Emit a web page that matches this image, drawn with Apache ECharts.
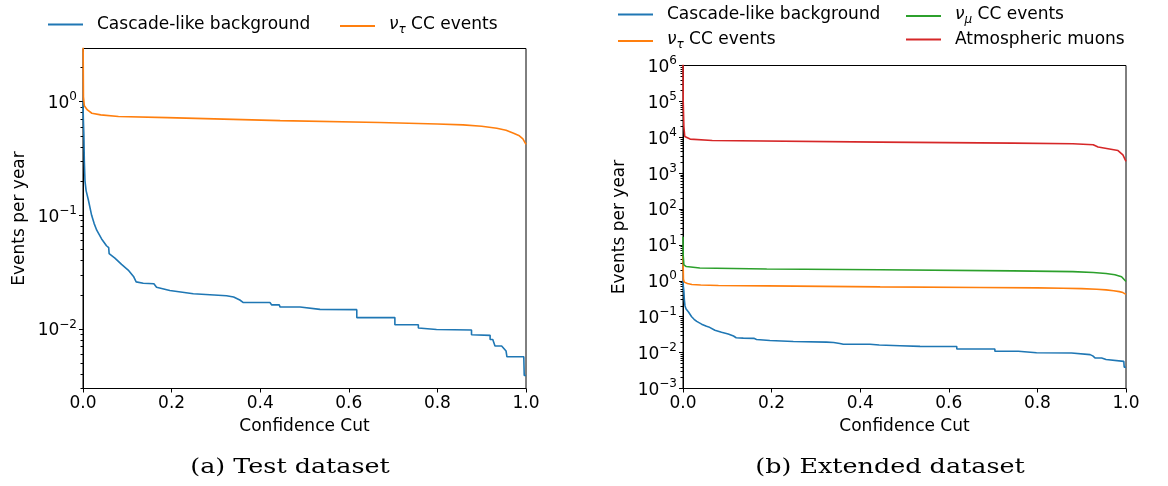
<!DOCTYPE html>
<html>
<head>
<meta charset="utf-8">
<script src="https://cdn.jsdelivr.net/npm/echarts@6/dist/echarts.min.js"></script>
<style>
  html, body { margin: 0; background: #fff; }
  #chart { width: 1168px; height: 486px; }
</style>
</head>
<body>
<div id="chart"></div>
<script>
// Cascade-like background (repeated cut = vertical drop)
const backgroundCut = [0, 0.0008, 0.002, 0.003, 0.0045, 0.007, 0.012, 0.0195, 0.025, 0.031, 0.042, 0.053, 0.058, 0.059, 0.072, 0.087, 0.102, 0.114, 0.12, 0.136, 0.16, 0.166, 0.196, 0.249, 0.324, 0.34, 0.354, 0.362, 0.422, 0.426, 0.443, 0.445, 0.49, 0.535, 0.618, 0.618, 0.704, 0.704, 0.757, 0.757, 0.798, 0.877, 0.877, 0.919, 0.919, 0.925, 0.93, 0.945, 0.955, 0.957, 0.995, 0.996, 1.0];
const backgroundRate = [1.0, 0.7, 0.5, 0.3, 0.2, 0.165, 0.137, 0.1, 0.085, 0.074, 0.062, 0.054, 0.052, 0.046, 0.042, 0.037, 0.033, 0.029, 0.026, 0.0253, 0.025, 0.0233, 0.0218, 0.0204, 0.0196, 0.0191, 0.018, 0.0171, 0.0171, 0.0163, 0.0163, 0.0156, 0.0156, 0.0149, 0.0148, 0.0126, 0.0126, 0.0109, 0.0109, 0.0102, 0.0099, 0.0098, 0.0089, 0.0088, 0.0081, 0.0081, 0.0071, 0.0071, 0.0064, 0.0057, 0.0057, 0.0039, 0.0039];

// nu_tau CC events
const nuTauCut = [0, 0.001, 0.003, 0.01, 0.02, 0.04, 0.08, 0.19, 0.445, 0.67, 0.8, 0.858, 0.9, 0.934, 0.955, 0.972, 0.985, 0.993, 1.0];
const nuTauRate = [5, 1.1, 0.92, 0.845, 0.79, 0.764, 0.74, 0.723, 0.68, 0.654, 0.635, 0.624, 0.607, 0.583, 0.56, 0.527, 0.5, 0.47, 0.42];

// nu_mu CC events (extended dataset)
const nuMuCut = [0, 0.0005, 0.002, 0.0075, 0.038, 0.189, 0.445, 0.745, 0.88, 0.926, 0.955, 0.975, 0.99, 1.0];
const nuMuRate = [17, 5, 2.8, 2.5, 2.27, 2.13, 2.04, 1.9, 1.8, 1.71, 1.6, 1.48, 1.3, 0.96];

// atmospheric muons (extended dataset)
const muonCut = [0, 0.0005, 0.002, 0.004, 0.016, 0.066, 0.445, 0.745, 0.88, 0.926, 0.937, 0.982, 0.993, 1.0];
const muonRate = [1.5e6, 1e5, 2e4, 1.05e4, 8900, 8130, 7340, 6890, 6600, 6170, 5330, 4270, 3240, 2140];

const xTicks = [0, 0.2, 0.4, 0.6, 0.8, 1.0];
const yTicksTest = [0.01, 0.1, 1];
const yTicksExt = [1e-3, 1e-2, 1e-1, 1, 10, 100, 1e3, 1e4, 1e5, 1e6];

const BLUE = '#1f77b4', ORANGE = '#ff7f0e', GREEN = '#2ca02c', RED = '#d62728';
const FONT = 'DejaVu Sans';
const FS = 17;

const zip = (xs, ys) => xs.map((x, i) => [x, ys[i]]);

function minorTicks(lo, hi) {
  const out = [];
  for (let e = Math.floor(Math.log10(lo)); e <= Math.ceil(Math.log10(hi)); e++) {
    for (let m = 2; m <= 9; m++) {
      const v = m * Math.pow(10, e);
      if (v >= lo && v <= hi) out.push(v);
    }
  }
  return out;
}

function powLabel(v) {
  const e = Math.round(Math.log10(v));
  return '{b|10}{s|' + (e < 0 ? '\u2212' + (-e) : e) + '}';
}

const labelRich = {
  b: { fontFamily: FONT, fontSize: FS, color: '#000', verticalAlign: 'bottom' },
  s: { fontFamily: FONT, fontSize: 12, color: '#000', verticalAlign: 'bottom', padding: [0, 0, 9, 0] }
};

function xAxis(gridIndex) {
  return {
    type: 'value', gridIndex, min: 0, max: 1, interval: 0.2,
    name: 'Confidence Cut', nameLocation: 'middle', nameGap: 30,
    nameTextStyle: { fontFamily: FONT, fontSize: FS, color: '#000' },
    axisLine: { lineStyle: { color: '#000', width: 1 } },
    axisTick: { length: 4, customValues: xTicks, lineStyle: { color: '#000' } },
    axisLabel: { fontFamily: FONT, fontSize: FS, color: '#000', margin: 7, customValues: xTicks, formatter: v => v.toFixed(1) },
    splitLine: { show: false }
  };
}

function yMajor(gridIndex, min, max, ticks) {
  return {
    type: 'log', gridIndex, min, max, logBase: 10, position: 'left',
    name: 'Events per year', nameLocation: 'middle', nameGap: 55,
    nameTextStyle: { fontFamily: FONT, fontSize: FS, color: '#000' },
    axisLine: { show: true, lineStyle: { color: '#000', width: 1 } },
    axisTick: { show: true, length: 4, customValues: ticks, lineStyle: { color: '#000' } },
    axisLabel: { customValues: ticks, margin: 6, formatter: powLabel, rich: labelRich },
    splitLine: { show: false }
  };
}

function yMinor(gridIndex, min, max) {
  const vals = minorTicks(min, max);
  return {
    type: 'log', gridIndex, min, max, logBase: 10, position: 'left',
    axisLine: { show: false },
    axisTick: { show: true, length: 2.5, customValues: vals, lineStyle: { color: '#000' } },
    axisLabel: { show: false, customValues: vals },
    splitLine: { show: false }
  };
}

function line(name, data, color, xi, yi) {
  return {
    name, type: 'line', data, xAxisIndex: xi, yAxisIndex: yi,
    showSymbol: false, clip: true,
    lineStyle: { color, width: 1.6 }, itemStyle: { color },
    emphasis: { disabled: true }
  };
}

function legendAt(name, left, top) {
  return {
    data: [name], left, top, padding: 0,
    icon: 'rect', itemWidth: 35, itemHeight: 2,
    selectedMode: false,
    textStyle: {
      fontFamily: FONT, fontSize: FS, color: '#000', padding: [0, 0, 0, 9],
      rich: {
        n: { fontFamily: FONT, fontSize: FS, fontStyle: 'italic', color: '#000', verticalAlign: 'top' },
        t: { fontFamily: FONT, fontSize: 12, fontStyle: 'italic', color: '#000', verticalAlign: 'top', padding: [8, 0, 0, 0] },
        r: { fontFamily: FONT, fontSize: FS, color: '#000', verticalAlign: 'top' }
      }
    },
    formatter: n => {
      if (n.indexOf('\u03bd\u03c4') === 0) return '{n|\u03bd}{t|\u03c4}{r| CC events}';
      if (n.indexOf('\u03bd\u03bc') === 0) return '{n|\u03bd}{t|\u03bc}{r| CC events}';
      return n;
    }
  };
}

const NAME_BG = 'Cascade-like background';
const NAME_TAU = '\u03bd\u03c4 CC events';
const NAME_MU = '\u03bd\u03bc CC events';
const NAME_ATM = 'Atmospheric muons';

const chart = echarts.init(document.getElementById('chart'), null, { renderer: 'canvas' });

chart.setOption({
  animation: false,
  backgroundColor: '#fff',
  grid: [
    { left: 83, right: 642, top: 48.5, bottom: 97.5, show: true, borderColor: '#000', borderWidth: 1 },
    { left: 683, right: 42, top: 65.5, bottom: 97.5, show: true, borderColor: '#000', borderWidth: 1 }
  ],
  xAxis: [xAxis(0), xAxis(1)],
  yAxis: [
    yMajor(0, 0.003, 2.93, yTicksTest),
    yMinor(0, 0.003, 2.93),
    yMajor(1, 1e-3, 1e6, yTicksExt),
    yMinor(1, 1e-3, 1e6)
  ],
  legend: [
    legendAt(NAME_BG, 48, 16),
    legendAt(NAME_TAU, 340, 16),
    legendAt(NAME_BG, 618, 6),
    legendAt(NAME_TAU, 618, 31),
    legendAt(NAME_MU, 906, 6),
    legendAt(NAME_ATM, 906, 31)
  ],
  series: [
    line(NAME_BG, zip(backgroundCut, backgroundRate), BLUE, 0, 0),
    line(NAME_TAU, zip(nuTauCut, nuTauRate), ORANGE, 0, 0),
    line(NAME_BG, zip(backgroundCut, backgroundRate), BLUE, 1, 2),
    line(NAME_TAU, zip(nuTauCut, nuTauRate), ORANGE, 1, 2),
    line(NAME_MU, zip(nuMuCut, nuMuRate), GREEN, 1, 2),
    line(NAME_ATM, zip(muonCut, muonRate), RED, 1, 2)
  ],
  graphic: [
    { type: 'text', x: 290, y: 468, scaleX: 1.21, style: { text: '(a) Test dataset', font: '21px "DejaVu Serif"', fill: '#000', align: 'center', verticalAlign: 'middle' } },
    { type: 'text', x: 890, y: 468, scaleX: 1.21, style: { text: '(b) Extended dataset', font: '21px "DejaVu Serif"', fill: '#000', align: 'center', verticalAlign: 'middle' } }
  ]
});
</script>
</body>
</html>
